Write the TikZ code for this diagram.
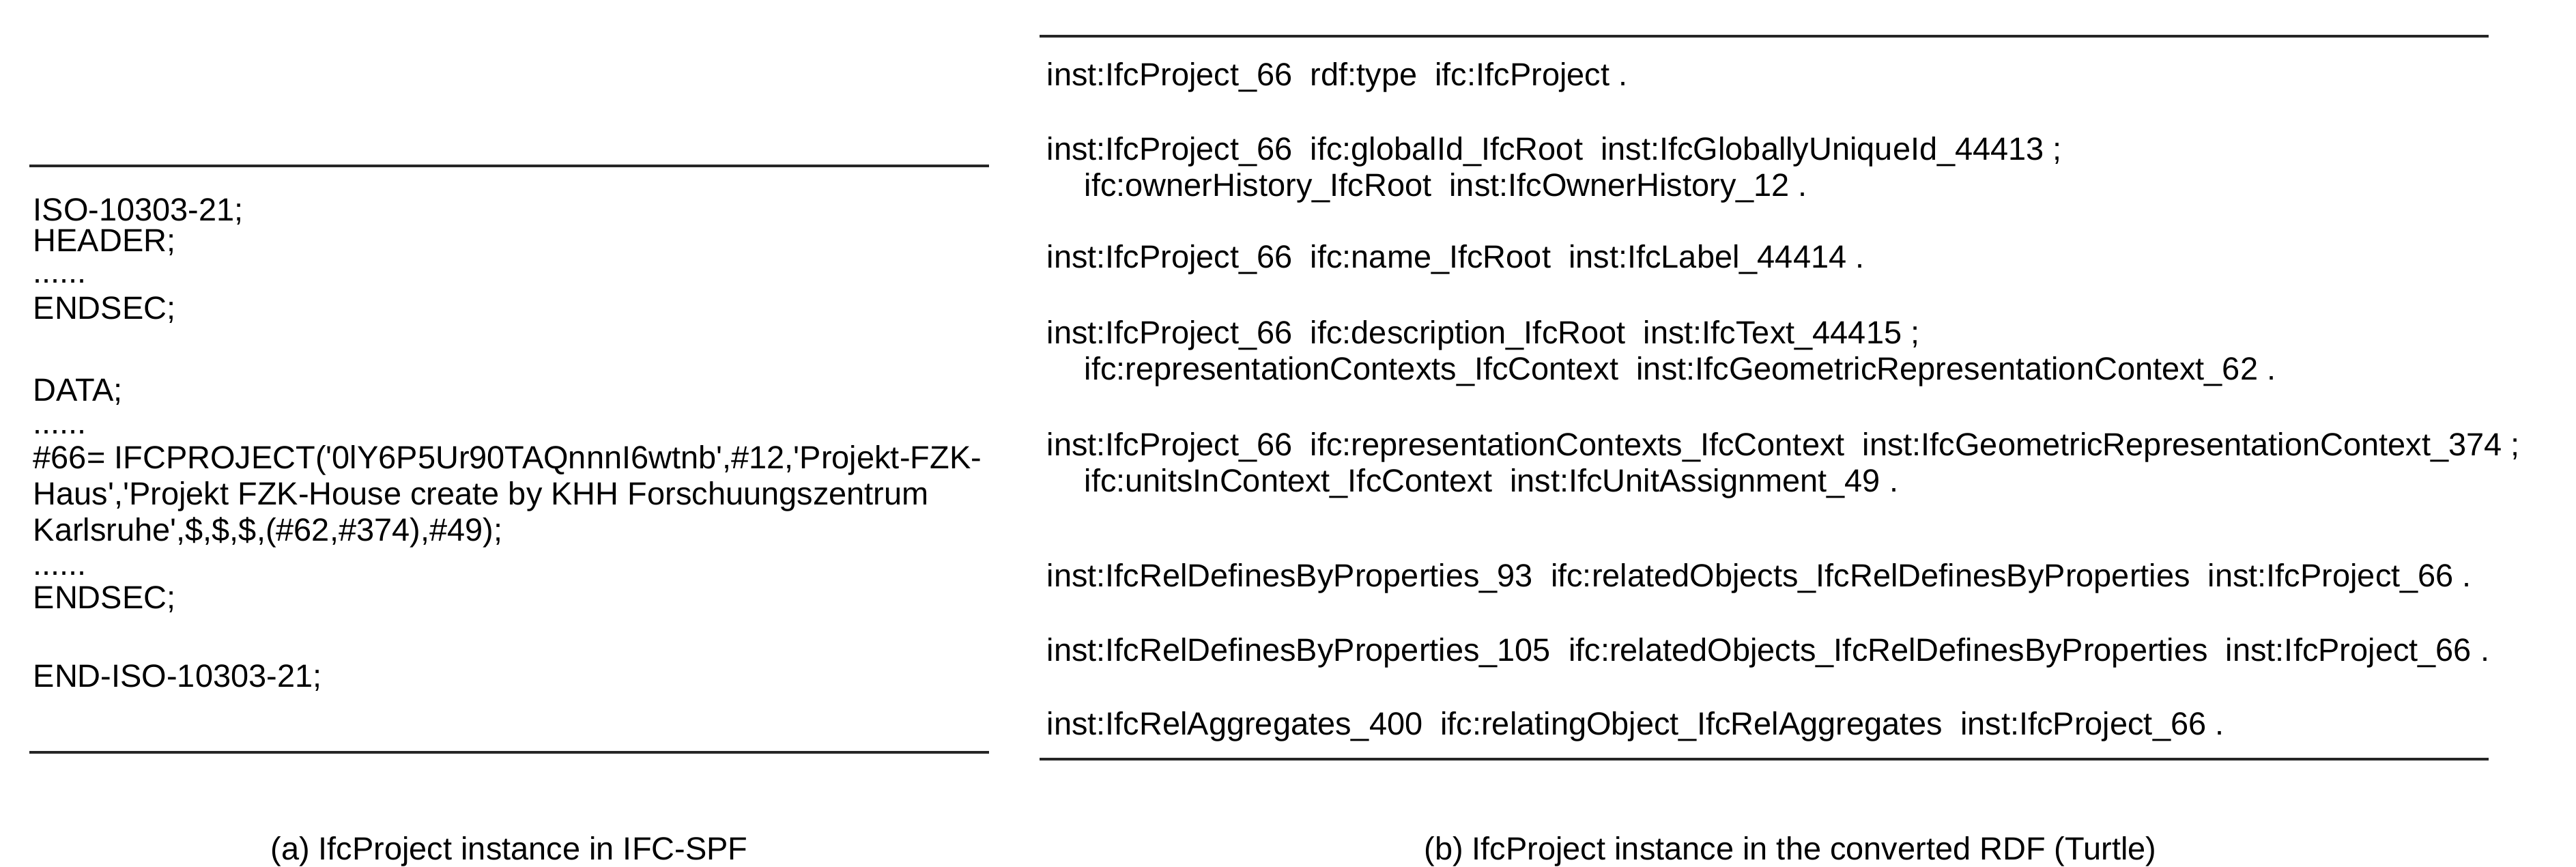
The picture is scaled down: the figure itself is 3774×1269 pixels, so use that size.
\documentclass[tikz,border=0pt]{standalone}
\usepackage{fontspec}
\setmainfont{Liberation Sans}
\newcommand\sq{\textquotesingle}
\begin{document}
\begin{tikzpicture}[x=0.01cm,y=-0.01cm,
  txt/.style={anchor=base west,inner sep=0pt,font=\fontsize{13.35}{16}\selectfont},
  captxt/.style={anchor=base,inner sep=0pt,font=\fontsize{13.35}{16}\selectfont},
  rule/.style={line width=0.9pt,draw=black!85}]
\useasboundingbox (0,0) rectangle (3774,1269);
% left panel
\coordinate (la) at (43,243); \coordinate (lb) at (1449,243);
\coordinate (lc) at (43,1102); \coordinate (ld) at (1449,1102);
\draw[rule] (la) -- (lb);
\draw[rule] (lc) -- (ld);
\node[txt] (a1) at (48,323) {ISO-10303-21;};
\node[txt] (a2) at (48,368) {HEADER;};
\node[txt] (a3) at (48,414) {......};
\node[txt] (a4) at (48,467) {ENDSEC;};
\node[txt] (a5) at (48,587) {DATA;};
\node[txt] (a6) at (48,635) {......};
\node[txt] (a7) at (48,686) {\#66= IFCPROJECT(\sq0lY6P5Ur90TAQnnnI6wtnb\sq,\#12,\sq Projekt-FZK-};
\node[txt] (a8) at (48,739) {Haus\sq,\sq Projekt FZK-House create by KHH Forschuungszentrum};
\node[txt] (a9) at (48,792) {Karlsruhe\sq,\$,\$,\$,(\#62,\#374),\#49);};
\node[txt] (a10) at (48,842) {......};
\node[txt] (a11) at (48,891) {ENDSEC;};
\node[txt] (a12) at (48,1006) {END-ISO-10303-21;};
\node[captxt] (ca) at (746,1259) {(a) IfcProject instance in IFC-SPF};
% right panel
\coordinate (ra) at (1523,53); \coordinate (rb) at (3646,53);
\coordinate (rc) at (1523,1112); \coordinate (rd) at (3646,1112);
\draw[rule] (ra) -- (rb);
\draw[rule] (rc) -- (rd);
\node[txt] (b1) at (1533,125) {inst:IfcProject\_66\ \ rdf:type\ \ ifc:IfcProject .};
\node[txt] (b2) at (1533,234) {inst:IfcProject\_66\ \ ifc:globalId\_IfcRoot\ \ inst:IfcGloballyUniqueId\_44413 ;};
\node[txt] (b3) at (1588,287) {ifc:ownerHistory\_IfcRoot\ \ inst:IfcOwnerHistory\_12 .};
\node[txt] (b4) at (1533,392) {inst:IfcProject\_66\ \ ifc:name\_IfcRoot\ \ inst:IfcLabel\_44414 .};
\node[txt] (b5) at (1533,503) {inst:IfcProject\_66\ \ ifc:description\_IfcRoot\ \ inst:IfcText\_44415 ;};
\node[txt] (b6) at (1588,556) {ifc:representationContexts\_IfcContext\ \ inst:IfcGeometricRepresentationContext\_62 .};
\node[txt] (b7) at (1533,667) {inst:IfcProject\_66\ \ ifc:representationContexts\_IfcContext\ \ inst:IfcGeometricRepresentationContext\_374 ;};
\node[txt] (b8) at (1588,720) {ifc:unitsInContext\_IfcContext\ \ inst:IfcUnitAssignment\_49 .};
\node[txt] (b9) at (1533,859) {inst:IfcRelDefinesByProperties\_93\ \ ifc:relatedObjects\_IfcRelDefinesByProperties\ \ inst:IfcProject\_66 .};
\node[txt] (b10) at (1533,968) {inst:IfcRelDefinesByProperties\_105\ \ ifc:relatedObjects\_IfcRelDefinesByProperties\ \ inst:IfcProject\_66 .};
\node[txt] (b11) at (1533,1076) {inst:IfcRelAggregates\_400\ \ ifc:relatingObject\_IfcRelAggregates\ \ inst:IfcProject\_66 .};
\node[captxt] (cb) at (2623,1259) {(b) IfcProject instance in the converted RDF (Turtle)};
\end{tikzpicture}
\end{document}
